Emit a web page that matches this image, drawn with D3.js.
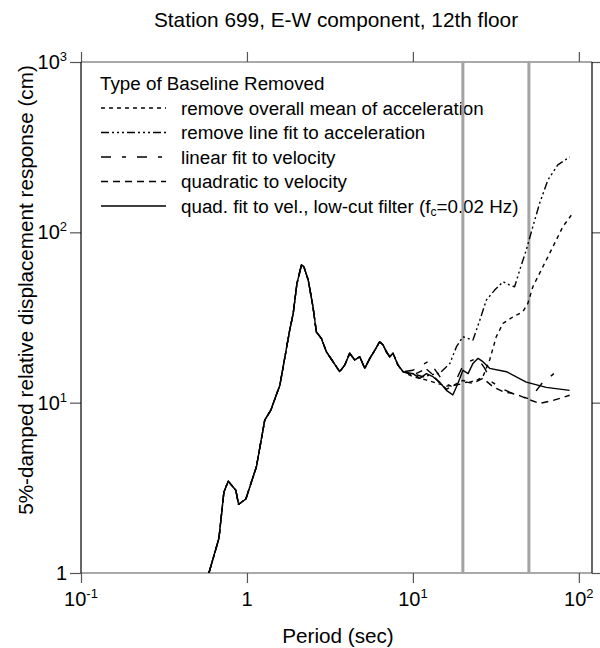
<!DOCTYPE html>
<html>
<head>
<meta charset="utf-8">
<script src="https://cdn.jsdelivr.net/npm/d3@7"></script>
<style>
  html, body { margin: 0; padding: 0; background: #fff; }
  svg { display: block; font-family: "Liberation Sans", Arial, Helvetica, sans-serif; }
</style>
</head>
<body>
<svg id="chart" width="600" height="648"></svg>
<script>
// ---------------- DATA ----------------
const chartTitle = "Station 699, E-W component, 12th floor";
const xTitle = "Period (sec)";
const yTitle = "5%-damped relative displacement response (cm)";
const xTicks = [0.1, 1, 10, 100];
const xTickBase = ["10", "1", "10", "10"];
const xTickExp = ["-1", "", "1", "2"];
const yTicks = [1, 10, 100, 1000];
const yTickBase = ["1", "10", "10", "10"];
const yTickExp = ["", "1", "2", "3"];
const markerPeriods = [20, 50];

// shared short-period part of all five spectra
const commonPeriods = [0.59, 0.678, 0.726, 0.771, 0.857, 0.89, 0.985, 1.14, 1.28, 1.39, 1.58, 1.81, 1.9, 2.0, 2.13, 2.2, 2.34, 2.5, 2.62, 2.81, 3.01, 3.3, 3.62, 3.88, 4.16, 4.46, 4.78, 5.13, 5.5, 5.89, 6.31, 6.61, 6.92, 7.25, 7.59, 8.13, 8.72];
const commonValues  = [1.0, 1.6, 2.98, 3.46, 3.06, 2.53, 2.72, 4.2, 7.9, 9.0, 12.7, 26.7, 33.4, 50, 64.3, 63, 52.5, 36.5, 26, 23.8, 19.9, 17.4, 15.2, 16.6, 19.5, 17.8, 18.6, 15.9, 18.2, 20.3, 22.8, 21.8, 19.9, 18.6, 19.5, 16.6, 15.2];

// long-period tails, one per baseline treatment
const meanPeriods = [10, 12, 14, 16, 18, 20, 22, 24.5, 26.4, 29, 31.8, 34.9, 40.1, 46, 49.3, 52.8, 60.7, 69.8, 80.1, 90];
const meanValues  = [14.2, 13.6, 13.0, 12.5, 12.8, 13.5, 13.2, 13.6, 14.2, 17.8, 24.4, 29.2, 31.9, 34.2, 38.3, 47.9, 62.8, 82.3, 108, 126];

const lineFitPeriods = [10, 11.5, 13, 14.5, 16.7, 18.3, 20, 23, 25.3, 27.7, 31.1, 34.9, 38.3, 41, 44, 48.2, 52.8, 58, 65.1, 74.7, 88];
const lineFitValues  = [14.8, 14.2, 14.6, 14.9, 17.0, 21.3, 24.4, 23.3, 30.5, 40, 45.8, 51.3, 49, 47.9, 60, 78.7, 108, 148, 203, 249, 277];

const linVelPeriods = [10, 11.5, 12.5, 14, 15.5, 17, 18.5, 20, 22, 24.5, 27, 30, 34.9, 40.1, 44, 48.9, 54, 60.7, 67, 73.1];
const linVelValues  = [15.5, 16.8, 17.5, 15.0, 13.0, 12.5, 14.0, 16.5, 17.5, 18.3, 16.0, 13.2, 12.0, 11.3, 11.0, 10.6, 11.4, 13.2, 14.2, 15.2];

const quadPeriods = [10, 12, 13, 14.5, 16, 17.5, 19, 21, 23, 26.4, 30.4, 34.9, 40.1, 43.9, 48.2, 51.9, 58, 69.8, 88];
const quadValues  = [14.5, 15.8, 14.8, 13.0, 12.0, 12.6, 12.8, 13.2, 13.0, 13.9, 12.4, 11.6, 11.3, 11.0, 10.6, 10.3, 9.9, 10.3, 11.05];

const lowCutPeriods = [10, 11, 12.06, 13.2, 14.5, 15.9, 17.4, 18.7, 20, 21.5, 23, 24.7, 26.4, 29, 36.6, 48.2, 63.6, 87.9];
const lowCutValues  = [14.8, 13.9, 14.8, 14.2, 13.2, 11.8, 11.1, 13.0, 15.5, 14.8, 17.0, 18.2, 17.4, 15.9, 15.2, 13.2, 12.3, 11.8];

const legendTitle = "Type of Baseline Removed";
const seriesLabels = [
  "remove overall mean of acceleration",
  "remove line fit to acceleration",
  "linear fit to velocity",
  "quadratic to velocity",
  "quad. fit to vel., low-cut filter (f"
];
const seriesDash = ["4,4", "8,3,2,3,2,3,2,3", "10,11,4,11", "7,5", null];

// ---------------- CHART ----------------
const svg = d3.select("#chart");
const pLeft = 81, pRight = 592, pTop = 62, pBottom = 573;

const x = d3.scaleLog().domain([0.1, 120]).range([pLeft, pRight]);
const y = d3.scaleLog().domain([1, 1000]).range([pBottom, pTop]);

const tails = [
  [meanPeriods, meanValues],
  [lineFitPeriods, lineFitValues],
  [linVelPeriods, linVelValues],
  [quadPeriods, quadValues],
  [lowCutPeriods, lowCutValues]
];
const series = tails.map(([p, v]) => {
  const pts = commonPeriods.map((t, i) => [t, commonValues[i]]);
  p.forEach((t, i) => pts.push([t, v[i]]));
  return pts;
});

// title
svg.append("text").attr("x", 336).attr("y", 27).attr("text-anchor", "middle")
  .attr("font-size", 20.8).text(chartTitle);

// axes (ticks only, frame lines drawn separately)
const tickColor = "#555";
const gB = svg.append("g").attr("transform", `translate(0,${pBottom})`)
  .call(d3.axisBottom(x).tickValues(xTicks).tickSize(10).tickSizeOuter(0).tickFormat(""));
const gT = svg.append("g").attr("transform", `translate(0,${pTop})`)
  .call(d3.axisTop(x).tickValues(xTicks).tickSize(10).tickSizeOuter(0).tickFormat(""));
const gL = svg.append("g").attr("transform", `translate(${pLeft},0)`)
  .call(d3.axisLeft(y).tickValues(yTicks).tickSize(11).tickSizeOuter(0).tickFormat(""));
const gR = svg.append("g").attr("transform", `translate(${pRight},0)`)
  .call(d3.axisRight(y).tickValues(yTicks).tickSize(11).tickSizeOuter(0).tickFormat(""));
[gB, gT, gL, gR].forEach(g => {
  g.selectAll(".tick line").attr("stroke", tickColor).attr("stroke-width", 1.2);
  g.select(".domain").remove();
});

// frame
svg.append("line").attr("x1", pLeft).attr("x2", pRight).attr("y1", pBottom).attr("y2", pBottom)
  .attr("stroke", tickColor).attr("stroke-width", 1.2);
svg.append("line").attr("x1", pLeft).attr("x2", pRight).attr("y1", pTop).attr("y2", pTop)
  .attr("stroke", tickColor).attr("stroke-width", 1.2);
svg.append("line").attr("x1", pLeft).attr("x2", pLeft).attr("y1", pTop).attr("y2", pBottom)
  .attr("stroke", "#000").attr("stroke-width", 1.2);
svg.append("line").attr("x1", pRight).attr("x2", pRight).attr("y1", pTop).attr("y2", pBottom)
  .attr("stroke", "#000").attr("stroke-width", 1.2);

// tick labels
const labFont = 20, supFont = 13;
xTicks.forEach((t, i) => {
  const tx = svg.append("text").attr("x", x(t)).attr("y", pBottom + 33)
    .attr("text-anchor", "middle").attr("font-size", labFont);
  tx.append("tspan").text(xTickBase[i]);
  if (xTickExp[i]) tx.append("tspan").attr("font-size", supFont).attr("dy", -8).text(xTickExp[i]);
});
yTicks.forEach((t, i) => {
  const tx = svg.append("text").attr("x", pLeft - 14).attr("y", y(t) + 7)
    .attr("text-anchor", "end").attr("font-size", labFont);
  tx.append("tspan").text(yTickBase[i]);
  if (yTickExp[i]) tx.append("tspan").attr("font-size", supFont).attr("dy", -8).text(yTickExp[i]);
});

// axis titles
svg.append("text").attr("x", 338).attr("y", 643).attr("text-anchor", "middle")
  .attr("font-size", 20.7).text(xTitle);
svg.append("text").attr("transform", `translate(33,290) rotate(-90)`)
  .attr("text-anchor", "middle").attr("font-size", 20.7).text(yTitle);

// legend
const legFont = 18.8;
const lg = svg.append("g");
lg.append("text").attr("x", 100).attr("y", 90).attr("font-size", legFont).text(legendTitle);
seriesLabels.forEach((lab, i) => {
  const ly = 108 + i * 24.5;
  const ln = lg.append("line").attr("x1", 101).attr("x2", 166).attr("y1", ly).attr("y2", ly)
    .attr("stroke", "#000").attr("stroke-width", 1.3);
  if (seriesDash[i]) ln.attr("stroke-dasharray", seriesDash[i]);
  const tx = lg.append("text").attr("x", 181).attr("y", ly + 6.5).attr("font-size", legFont);
  tx.append("tspan").text(lab);
  if (i === 4) {
    tx.append("tspan").attr("font-size", 12).attr("dy", 3).text("c");
    tx.append("tspan").attr("dy", -3).text("=0.02 Hz)");
  }
});

// gray marker lines
markerPeriods.forEach(p => {
  svg.append("line").attr("x1", x(p)).attr("x2", x(p)).attr("y1", pTop).attr("y2", pBottom)
    .attr("stroke", "#a3a3a3").attr("stroke-width", 3);
});

// curves
svg.append("clipPath").attr("id", "clip").append("rect")
  .attr("x", pLeft).attr("y", pTop).attr("width", pRight - pLeft).attr("height", pBottom - pTop);
const line = d3.line().x(d => x(d[0])).y(d => y(d[1]));
const cg = svg.append("g").attr("clip-path", "url(#clip)");
series.forEach((pts, i) => {
  const p = cg.append("path").datum(pts).attr("d", line)
    .attr("fill", "none").attr("stroke", "#000").attr("stroke-width", 1.4)
    .attr("stroke-linejoin", "round");
  if (seriesDash[i]) p.attr("stroke-dasharray", seriesDash[i]);
});
</script>
</body>
</html>
